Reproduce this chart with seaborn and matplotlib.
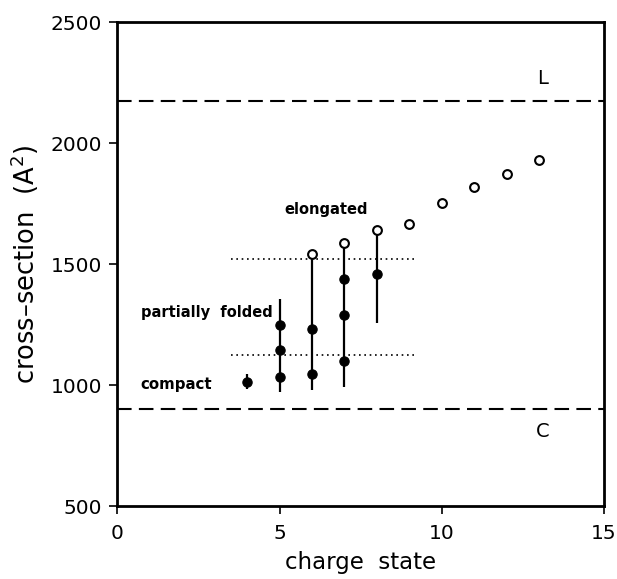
import matplotlib
matplotlib.use("Agg")
import matplotlib.pyplot as plt
import seaborn as sns
import pandas as pd

# ---- data ----
filled_x = [4, 5, 5, 5, 6, 6, 7, 7, 7, 8]
filled_y = [1012, 1033, 1145, 1248, 1045, 1231, 1099, 1289, 1438, 1459]
open_x = [6, 7, 8, 9, 10, 11, 12, 13]
open_y = [1541, 1587, 1641, 1665, 1751, 1820, 1871, 1930]
range_x = [4, 5, 6, 7, 8]
range_lo = [983, 971, 979, 992, 1256]
range_hi = [1045, 1355, 1541, 1587, 1636]
limit_L = 2175
limit_C = 900
band_lines = [1522, 1124]
band_xrange = [3.5, 9.2]
x_ticks = [0, 5, 10, 15]
y_ticks = [500, 1000, 1500, 2000, 2500]

sns.set_style("ticks")
plt.rcParams['font.family'] = ['DejaVu Sans']
plt.rcParams['text.color'] = 'black'
plt.rcParams['axes.labelcolor'] = 'black'

fig = plt.figure(figsize=(6.17, 5.79), dpi=100)
ax = fig.add_axes([0.190, 0.126, 0.789, 0.836])

# ranges (vertical bars)
ax.vlines(range_x, range_lo, range_hi, colors="black", linewidth=1.6, zorder=2)

df_f = pd.DataFrame({"x": filled_x, "y": filled_y})
df_o = pd.DataFrame({"x": open_x, "y": open_y})
sns.scatterplot(data=df_f, x="x", y="y", ax=ax, color="black", s=45,
                edgecolor="black", linewidth=0.8, zorder=3, legend=False)
sns.scatterplot(data=df_o, x="x", y="y", ax=ax, facecolor="white", s=40,
                edgecolor="black", linewidth=1.5, zorder=3, legend=False)

# dashed limits
ax.axhline(limit_L, color="black", linestyle=(0, (7, 3.5)), linewidth=1.5, zorder=1)
ax.axhline(limit_C, color="black", linestyle=(0, (7, 3.5)), linewidth=1.5, zorder=1)
# dotted band lines
for yv in band_lines:
    ax.plot(band_xrange, [yv, yv], color="black", linestyle=(0, (1, 2.2)),
            linewidth=1.2, zorder=1)

# annotations
ax.text(13.1, 2265, "L", fontsize=14, ha="center", va="center", color="black")
ax.text(13.1, 810, "C", fontsize=14, ha="center", va="center", color="black")
ax.text(6.45, 1727, "elongated", fontsize=10.5, fontweight="bold", ha="center",
        va="center", color="black")
ax.text(0.72, 1298, "partially  folded", fontsize=10.5, fontweight="bold",
        ha="left", va="center", color="black")
ax.text(0.72, 1004, "compact", fontsize=10.8, fontweight="bold", ha="left",
        va="center", color="black")

ax.set_xlim(0, 15)
ax.set_ylim(500, 2500)
ax.set_xticks(x_ticks)
ax.set_yticks(y_ticks)
ax.set_xlabel("charge  state", fontsize=16.5, labelpad=6)
ax.set_ylabel("cross\u2013section  (A$^2$)", fontsize=18.5, labelpad=7)
ax.tick_params(axis="both", direction="out", length=6, width=1.2, labelsize=14.5,
               colors="black")
ax.tick_params(axis="x", pad=7)
ax.tick_params(axis="y", pad=5)
for s in ax.spines.values():
    s.set_visible(True)
    s.set_linewidth(2)
    s.set_color("black")

fig.savefig("out.png", dpi=100)
